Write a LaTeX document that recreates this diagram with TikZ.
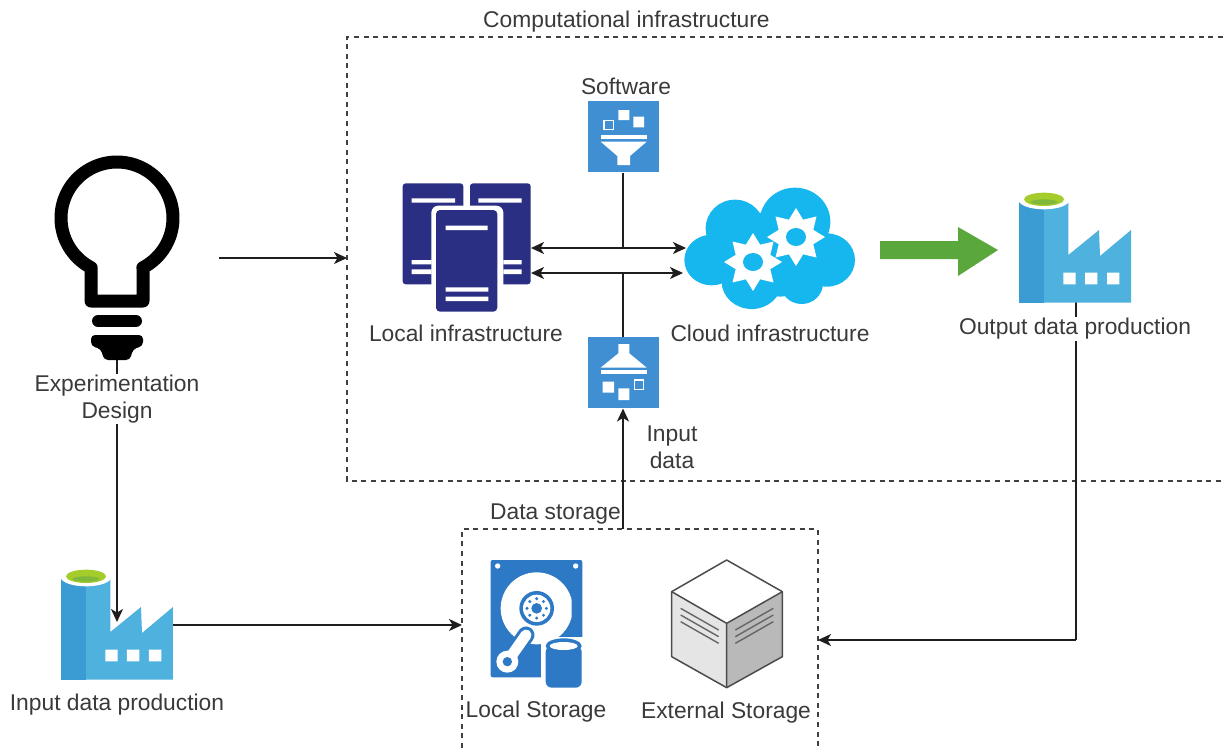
\documentclass[tikz,border=0pt]{standalone}
\usepackage{fontspec}
\setmainfont{Liberation Sans}
\usetikzlibrary{arrows.meta,shapes.geometric,calc}
\definecolor{txt}{HTML}{3A3A3A}
\definecolor{lnk}{HTML}{1E1E1E}
\definecolor{boxblue}{HTML}{3F8FD2}
\definecolor{srv}{HTML}{2B2F83}
\definecolor{cloudc}{HTML}{16B6EE}
\definecolor{facl}{HTML}{4FB1DD}
\definecolor{facd}{HTML}{3A9CD2}
\definecolor{lime}{HTML}{A4CC2A}
\definecolor{limeb}{HTML}{7FB83A}
\definecolor{arrowg}{HTML}{5AA83C}
\definecolor{hdd}{HTML}{2E79C5}
\tikzset{
  lab/.style={font=\fontsize{22.8}{27}\selectfont,text=txt,inner sep=1pt,align=center},
  labw/.style={lab,fill=white},
  frame/.style={draw=black!75,line width=1.6pt,dash pattern=on 5pt off 4.6pt},
  link/.style={draw=lnk,line width=1.4pt},
  arr/.style={link,-{Stealth[length=13pt,width=12pt,inset=3.5pt]}},
  both/.style={link,{Stealth[length=13pt,width=12pt,inset=3.5pt]}-{Stealth[length=13pt,width=12pt,inset=3.5pt]}},
  anchorbox/.style={inner sep=0,outer sep=0},
  zoomA/.style={shift={(360,70)},x=1pt/3,y=-1pt/3},
  gearst/.style={star,star points=8,star point ratio=1.55,fill=white,inner sep=0,minimum size=58pt}
}
\newcommand{\factoryicon}[2]{%
\begin{scope}[shift={(#1,#2)},x=1pt/3,y=-1pt/3]
  \fill[facl] (282,60) -- (355,60) -- (355,225) -- (447,150) -- (450,228) -- (543,150) -- (543,368) -- (282,368) -- cycle;
  \fill[facd] (208,60) rectangle (282.5,368);
  \fill[white] (282,60) ellipse [x radius=76,y radius=28];
  \fill[lime] (282,58) ellipse [x radius=60,y radius=20];
  \fill[limeb] (282,66) ellipse [x radius=40,y radius=8];
  \fill[white] (340,278) rectangle (377,313) (405,278) rectangle (442,313) (471,278) rectangle (508,313);
\end{scope}}
\begin{document}
\begin{tikzpicture}[x=1pt,y=-1pt]
\useasboundingbox (0,0) rectangle (1223,748);
\fill[white] (0,0) rectangle (1223,748);

% frames: the picture is cropped, so the right side of one and the bottom of the other are absent
\node[anchorbox,minimum width=876pt,minimum height=444pt,anchor=north west] (compbox) at (347,37) {};
\node[anchorbox,minimum width=356pt,minimum height=219pt,anchor=north west] (storebox) at (462,529) {};
\draw[frame] (compbox.north east) -- (compbox.north west) -- (compbox.south west) -- (compbox.south east);
\draw[frame] (storebox.south west) -- (storebox.north west) -- (storebox.north east) -- (storebox.south east);

% icon anchors
\node[anchorbox,minimum width=72pt,minimum height=72pt,anchor=north west] (software) at (588,100.5) {};
\node[anchorbox,minimum width=72pt,minimum height=72pt,anchor=north west] (inputicon) at (588,336.5) {};
\node[anchorbox,minimum width=128pt,minimum height=129pt,anchor=north west] (local) at (403,183) {};
\node[anchorbox,minimum width=171pt,minimum height=121pt,anchor=north west] (cloud) at (685,188) {};
\node[anchorbox,minimum width=112pt,minimum height=111pt,anchor=north west] (outfac) at (1019,192) {};
\node[anchorbox,minimum width=112pt,minimum height=111pt,anchor=north west] (infac) at (61,569) {};
\node[anchorbox,minimum width=126pt,minimum height=205pt,anchor=north west] (bulb) at (54,156) {};
\coordinate (hubtop) at (623,248);
\coordinate (hubbot) at (623,273);
\coordinate (bulbout) at (219,258);
\coordinate (outtick) at (1076,249);
\coordinate (outcorner) at (1076,640);
\coordinate (instore) at (462,625);
\coordinate (infacout) at (172,625);
\coordinate (bulbdown) at (117,622);
\coordinate (stemtop) at (117,360);
\coordinate (leftA) at (531,248);
\coordinate (rightA) at (686,248);
\coordinate (leftB) at (531,273);
\coordinate (rightB) at (683,273);

% connectors
\draw[arr] (bulbout) -- (compbox.west |- bulbout);
\draw[link] (software.south -| hubtop) -- (hubtop);
\draw[link] (hubbot) -- (inputicon.north -| hubbot);
\draw[both] (leftA) -- (rightA);
\draw[both] (leftB) -- (rightB);
\draw[arr] (storebox.north -| hubtop) -- (inputicon.south -| hubtop);
\draw[arr] (stemtop) -- (bulbdown);
\draw[arr] (infacout) -- (instore);
\draw[link] (outtick) -- (outcorner);
\draw[arr] (outcorner) -- (storebox.east |- outcorner);

% bulb
\draw[black,line width=13pt,line join=round] (91,301) -- (91,268)
   -- plot[domain=117.5:422.5,samples=90,smooth] ({117+56*cos(\x)},{218+56*sin(\x)})
   -- (143,268) -- (143,301) -- cycle;
\draw[black,line width=12pt,line cap=round] (98,321) -- (136,321);
\fill[black,rounded corners=4pt] (91,335) -- (143,335) -- (143,346) -- (133,349) -- (130,360) -- (104,360) -- (101,349) -- (91,346) -- cycle;

% software icon
\begin{scope}[zoomA]
  \fill[boxblue] (684,92) rectangle (898,305);
  \fill[white] (775,120) rectangle (808,150) (820,140) rectangle (852,172);
  \draw[white,line width=1.5pt] (732,152) rectangle (760,178);
  \fill[white] (722,195) rectangle (860,208);
  \fill[white] (722,215) -- (860,215) -- (810,258) -- (810,285) -- (772,285) -- (772,258) -- cycle;
  % input icon
  \fill[boxblue] (684,800) rectangle (898,1015);
  \fill[white] (728,935) rectangle (762,968) (775,955) rectangle (808,990);
  \draw[white,line width=1.5pt] (823,930) rectangle (850,958);
  \fill[white] (722,900) rectangle (860,913);
  \fill[white] (775,822) -- (808,822) -- (808,850) -- (860,893) -- (722,893) -- (775,850) -- cycle;
  % servers
  \fill[srv,rounded corners=3pt] (128,340) rectangle (310,643);
  \fill[srv,rounded corners=3pt] (330,340) rectangle (512,643);
  \fill[white] (155,385) rectangle (285,398) (155,570) rectangle (215,583) (155,598) rectangle (215,612);
  \fill[white] (355,385) rectangle (485,398) (430,570) rectangle (485,583) (430,598) rectangle (485,612);
  \fill[white,rounded corners=7pt] (214,407) rectangle (430,740);
  \fill[srv,rounded corners=4pt] (228,420) rectangle (412,725);
  \fill[white] (257,467) rectangle (383,480) (257,652) rectangle (385,665) (257,680) rectangle (385,693);
\end{scope}
% cloud
\begin{scope}[shift={(680,180)},x=1pt/3,y=-1pt/3]
  \fill[cloudc] (95,240) ellipse [x radius=82,y radius=76]
    (165,145) ellipse [x radius=88,y radius=86] (345,125) ellipse [x radius=106,y radius=102]
    (440,240) ellipse [x radius=85,y radius=80]
    (215,305) ellipse [x radius=90,y radius=82] (365,310) ellipse [x radius=64,y radius=62]
    (270,220) circle (125) (300,270) circle (80) (400,280) circle (40);
\end{scope}
\node[gearst] (gearA) at (753,262) {};
\node[gearst] (gearB) at (796,237) {};
\fill[cloudc] (gearA.center) ellipse [x radius=10,y radius=9];
\fill[cloudc] (gearB.center) ellipse [x radius=10,y radius=9];

% green arrow
\fill[arrowg] (880,241) -- (958,241) -- (958,227) -- (998,250) -- (958,276) -- (958,259) -- (880,259) -- cycle;

% factories
\factoryicon{950}{180}
\factoryicon{-8}{557}

% hard disk
\begin{scope}[shift={(450,520)},x=1pt/3,y=-1pt/3]
  \fill[hdd,rounded corners=2pt] (122,120) rectangle (397,472);
  \fill[white] (143,138) circle (8) (377,138) circle (8);
  \begin{scope}
    \clip (122,120) rectangle (365,472);
    \fill[white] (260,265) circle (108);
  \end{scope}
  \fill[hdd] (260,265) circle (52);
  \fill[white] (260,265) circle (41);
  \fill[hdd] (260,265) circle (16);
  \foreach \a in {0,45,...,315} \fill[hdd] ($(260,265)+(\a:29)$) circle (5);
  \draw[hdd,line width=17pt,line cap=round] (172,425) -- (228,345);
  \fill[hdd] (172,425) circle (42);
  \fill[white] (172,425) circle (33);
  \draw[white,line width=11pt,line cap=round] (172,425) -- (228,345);
  \fill[hdd] (172,425) circle (14);
  \fill[white] (274,350) rectangle (408,510);
  \fill[hdd,rounded corners=6pt] (287,378) rectangle (395,503);
  \fill[hdd] (341,378) ellipse [x radius=54,y radius=23];
  \fill[white] (341,378) ellipse [x radius=42,y radius=12];
\end{scope}

% cube
\begin{scope}[shift={(450,520)},x=1pt/3,y=-1pt/3]
  \fill[white] (830,120) -- (997,215) -- (830,310) -- (665,215) -- cycle;
  \fill[gray!20] (665,215) -- (830,310) -- (830,503) -- (665,410) -- cycle;
  \fill[gray!55] (997,215) -- (830,310) -- (830,503) -- (997,410) -- cycle;
  \draw[black!70,line width=1.5pt,line join=round] (830,120) -- (997,215) -- (997,410) -- (830,503) -- (665,410) -- (665,215) -- cycle;
  \draw[black!70,line width=1.5pt,line join=round] (665,215) -- (830,310) -- (997,215) (830,310) -- (830,503);
  \foreach \d in {0,20,40} {
    \draw[black!60,line width=1.4pt] (692,265+\d) -- (806,330+\d);
    \draw[black!60,line width=1.4pt] (856,330+\d) -- (970,265+\d);
  }
\end{scope}

% labels
\node[lab,anchor=west] (tcomp) at (482,22) {Computational infrastructure};
\node[lab] (tsoft) at (626,86) {Software};
\node[lab] (tlocal) at (466,333) {Local infrastructure};
\node[lab] (tcloud) at (770,333) {Cloud infrastructure};
\node[labw] (toutput) at (1075,329) {Output data production};
\node[lab] (tinput) at (672,447) {Input\\data};
\node[labw] (texp) at (117,399) {Experimentation\\Design};
\node[lab] (tinfac) at (117,705) {Input data production};
\node[lab,anchor=west] (tstore) at (489,514) {Data storage};
\node[lab] (tlstore) at (536,712) {Local Storage};
\node[lab] (testore) at (726,713) {External Storage};
\end{tikzpicture}
\end{document}
